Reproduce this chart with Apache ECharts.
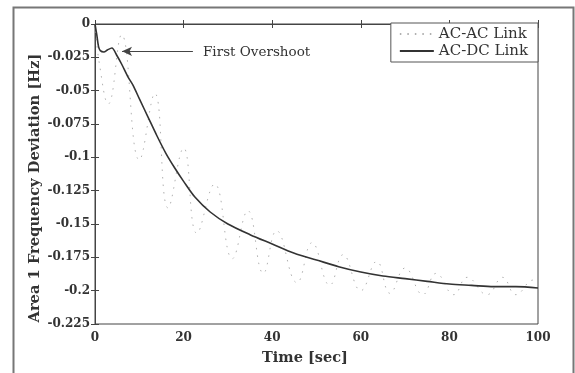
<!DOCTYPE html>
<html>
<head>
<meta charset="utf-8">
<script src="https://cdn.jsdelivr.net/npm/echarts@6/dist/echarts.min.js"></script>
<style>
html,body{margin:0;padding:0;background:#fff;}
#chart{width:575px;height:373px;}
</style>
</head>
<body>
<div id="chart"></div>
<script>
// ---- data ----
const timeDC = [0, 0.4, 0.8, 1.2, 2, 2.8, 3.8, 5, 6, 7.5, 8.6, 10, 12, 14, 16, 18, 20, 22.6, 26, 30, 35, 40, 45, 50, 55, 60, 65, 70, 75, 80, 85, 90, 95, 100];
const acdc   = [0, -0.008, -0.017, -0.020, -0.021, -0.0195, -0.018, -0.024, -0.030, -0.040, -0.046, -0.056, -0.070, -0.084, -0.097, -0.108, -0.118, -0.130, -0.141, -0.150, -0.158, -0.165, -0.172, -0.177, -0.182, -0.186, -0.189, -0.191, -0.193, -0.195, -0.196, -0.197, -0.197, -0.198];

const timeAC = [0, 1, 3, 6, 10, 13.5, 16.5, 20, 23, 27, 31, 34.5, 38, 41, 45.6, 49, 53, 56, 60, 63.6, 66.6, 70, 74, 77, 81, 84, 88.5, 92, 95, 99, 100];
const acac   = [0, -0.03, -0.06, -0.008, -0.102, -0.052, -0.138, -0.093, -0.157, -0.12, -0.176, -0.14, -0.187, -0.155, -0.194, -0.164, -0.196, -0.173, -0.2, -0.178, -0.202, -0.183, -0.203, -0.187, -0.203, -0.19, -0.203, -0.19, -0.203, -0.192, -0.194];

const seriesNames = ['AC-AC Link', 'AC-DC Link'];
const xTitle = 'Time [sec]';
const yTitle = 'Area 1 Frequency Deviation [Hz]';
const annotationText = 'First Overshoot';
const arrowFrom = [22.1, -0.0205];
const arrowTo = [6.1, -0.0205];

const dcData = timeDC.map((t, i) => [t, acdc[i]]);
const acData = timeAC.map((t, i) => [t, acac[i]]);

const chart = echarts.init(document.getElementById('chart'), null, {renderer: 'canvas'});
const labelFont = {fontFamily: 'DejaVu Serif', fontWeight: 'bold', fontSize: 12, color: '#333'};

chart.setOption({
  backgroundColor: '#fff',
  animation: false,
  grid: {left: 95, right: 37, top: 24, bottom: 49, show: true, borderColor: '#444', borderWidth: 1, backgroundColor: 'transparent'},
  legend: {
    right: 37, top: 23, orient: 'vertical',
    data: seriesNames,
    itemWidth: 34, itemHeight: 10, itemGap: 1,
    padding: [3, 10, 3, 8],
    itemStyle: {opacity: 0},
    borderColor: '#555', borderWidth: 1, backgroundColor: '#fff',
    textStyle: {fontFamily: 'DejaVu Serif', fontSize: 15, lineHeight: 16, color: '#333'}
  },
  xAxis: [{
    type: 'value', min: 0, max: 100, interval: 20,
    axisLine: {lineStyle: {color: '#444'}},
    axisTick: {inside: true, length: 4, lineStyle: {color: '#444'}},
    axisLabel: Object.assign({margin: 8}, labelFont),
    splitLine: {show: false}
  }, {
    type: 'value', min: 0, max: 100, interval: 20, position: 'top',
    axisLine: {lineStyle: {color: '#444'}},
    axisTick: {inside: true, length: 4, lineStyle: {color: '#444'}},
    axisLabel: {show: false}, splitLine: {show: false}
  }],
  yAxis: [{
    type: 'value', min: -0.225, max: 0, interval: 0.025,
    axisLine: {show: true, lineStyle: {color: '#444'}},
    axisTick: {show: true, inside: true, length: 4, lineStyle: {color: '#444'}},
    axisLabel: Object.assign({margin: 5}, labelFont),
    splitLine: {show: false}
  }, {
    type: 'value', min: -0.225, max: 0, interval: 0.025, position: 'right',
    axisLine: {show: true, lineStyle: {color: '#444'}},
    axisTick: {show: true, inside: true, length: 4, lineStyle: {color: '#444'}},
    axisLabel: {show: false}, splitLine: {show: false}
  }],
  series: [{
    name: seriesNames[0], type: 'line', data: acData, smooth: 0.45, symbol: 'none',
    itemStyle: {color: '#b0b0b0'},
    lineStyle: {color: '#b0b0b0', width: 1, type: [1.5, 6]},
    z: 2
  }, {
    name: seriesNames[1], type: 'line', data: dcData, smooth: 0.3, symbol: 'none',
    itemStyle: {color: '#333'},
    lineStyle: {color: '#333', width: 1.6},
    z: 3,
    markLine: {
      silent: true, symbol: ['none', 'arrow'], symbolSize: [7, 10],
      lineStyle: {color: '#444', width: 1.2, type: 'solid'},
      label: {show: false},
      data: [[{coord: arrowFrom}, {coord: arrowTo}]]
    }
  }],
  graphic: [
    {type: 'rect', left: 11, top: 5, shape: {width: 560, height: 400}, style: {fill: 'none', stroke: '#777', lineWidth: 2}, silent: true},
    {type: 'text', x: 203, y: 52, style: {text: annotationText, fontFamily: 'DejaVu Serif', fontSize: 13.5, fill: '#333', verticalAlign: 'middle'}},
    {type: 'text', x: 305, y: 358, style: {text: xTitle, fontFamily: 'DejaVu Serif', fontWeight: 'bold', fontSize: 14.5, fill: '#333', align: 'center', verticalAlign: 'middle'}},
    {type: 'text', x: 35, y: 188, rotation: Math.PI / 2, style: {text: yTitle, fontFamily: 'DejaVu Serif', fontWeight: 'bold', fontSize: 14.7, fill: '#333', align: 'center', verticalAlign: 'middle'}}
  ]
});
</script>
</body>
</html>
